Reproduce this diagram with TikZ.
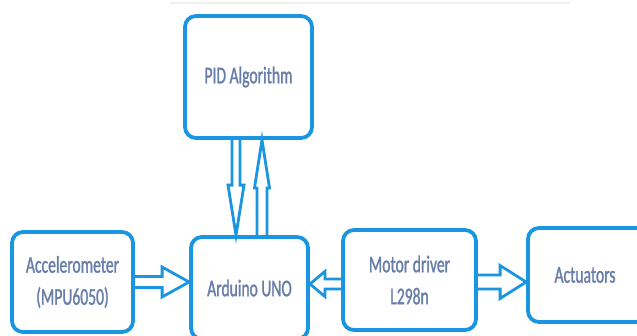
\documentclass[tikz,border=0pt]{standalone}
\usepackage{fontspec}
\setmainfont{Carlito}
\newfontfamily\boxfont{Carlito}[FakeStretch=0.65, FakeBold=1.2]
\usetikzlibrary{calc}
\definecolor{boxblue}{RGB}{26,150,224}
\definecolor{txtblue}{RGB}{104,126,170}
\tikzset{
  box/.style={draw=boxblue, line width=3.8pt, rounded corners=11pt, fill=white,
    text=txtblue, align=center, inner sep=0pt,
    font=\boxfont\fontsize{24}{32}\selectfont},
  fat arrow/.style n args={3}{draw=boxblue, line width=2.8pt, line join=miter, miter limit=20,
    to path={
      ($(\tikztostart)!#1!90:(\tikztotarget)$) --
      ($(\tikztotarget)!#3!(\tikztostart)!#1!90:(\tikztotarget)$) --
      ($(\tikztotarget)!#3!(\tikztostart)!#2!90:(\tikztotarget)$) --
      (\tikztotarget) --
      ($(\tikztotarget)!#3!(\tikztostart)!#2!-90:(\tikztotarget)$) --
      ($(\tikztotarget)!#3!(\tikztostart)!#1!-90:(\tikztotarget)$) --
      ($(\tikztostart)!#1!-90:(\tikztotarget)$)
    }}
}
\begin{document}
\begin{tikzpicture}[x=1pt,y=-1pt]
\clip (0,0) rectangle (637,335);
\fill[white] (0,0) rectangle (637,335);
% faint top line
\draw[line width=2pt, gray!12] (170,3) -- (570,3);
% boxes
\node[box, minimum width=127pt, minimum height=122pt] (pid) at (248.5,77) {PID Algorithm};
\node[box, minimum width=117pt, minimum height=102pt] (ard) at (249.5,288) {Arduino UNO};
\node[box, minimum width=121pt, minimum height=100pt] (acc) at (72.5,282) {Accelerometer\\(MPU6050)};
\node[box, minimum width=133pt, minimum height=100pt] (mot) at (409.5,280) {Motor driver\\L298n};
\node[box, minimum width=120pt, minimum height=94pt] (act) at (588,275) {\hspace*{-6pt}Actuators};
% connector end points
\coordinate (p1) at ([xshift=-12.5pt]pid.south);
\coordinate (a1) at ([xshift=-13.5pt]ard.north);
\coordinate (a2) at ([xshift=12.5pt]ard.north);
\coordinate (p2) at ([xshift=13.5pt]pid.south);
\coordinate (c1) at (acc.east);
\coordinate (a3) at (acc.east -| ard.west);
\coordinate (m1) at ([yshift=-4pt]mot.west);
\coordinate (a4) at (m1 -| ard.east);
\coordinate (m2) at ([yshift=-2pt]mot.east);
\coordinate (t1) at (m2 -| act.west);
% connectors
\draw[fat arrow={4pt}{8pt}{50pt}] (p1) to (a1);
\draw[fat arrow={5pt}{7.5pt}{48pt}] (a2) to (p2);
\draw[fat arrow={5.5pt}{15pt}{27pt}] (c1) to (a3);
\draw[fat arrow={5pt}{12.5pt}{15pt}] (m1) to (a4);
\draw[fat arrow={7pt}{16.5pt}{26pt}] (m2) to (t1);
\end{tikzpicture}
\end{document}
